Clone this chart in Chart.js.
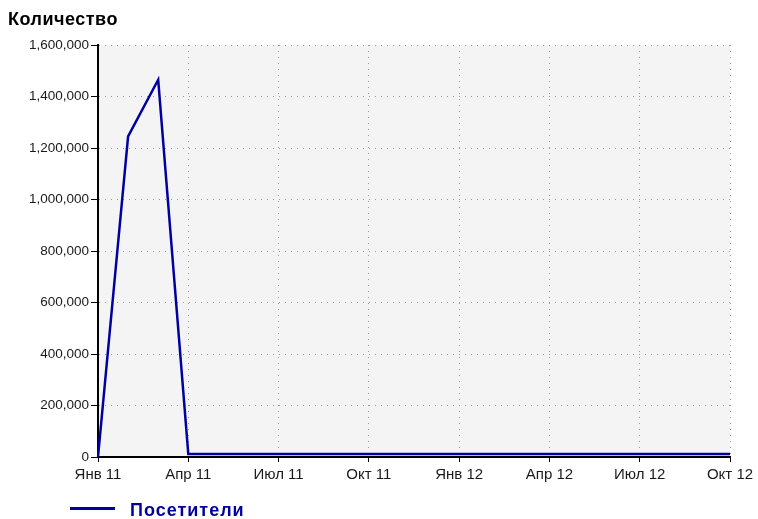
<!DOCTYPE html>
<html>
<head>
<meta charset="utf-8">
<script src="https://cdn.jsdelivr.net/npm/chart.js@4"></script>
<style>
  html, body { margin: 0; padding: 0; background: #fff; }
  #myChart { display: block; }
</style>
</head>
<body>
<canvas id="myChart" width="758" height="519"></canvas>
<script>
// months on the x axis (Jan 2011 - Oct 2012)
const months = [
  'Янв 11', 'Фев 11', 'Мар 11', 'Апр 11', 'Май 11', 'Июн 11',
  'Июл 11', 'Авг 11', 'Сен 11', 'Окт 11', 'Ноя 11', 'Дек 11',
  'Янв 12', 'Фев 12', 'Мар 12', 'Апр 12', 'Май 12', 'Июн 12',
  'Июл 12', 'Авг 12', 'Сен 12', 'Окт 12'
]
// only these get a label, tick and grid line
const xTickLabels = ['Янв 11', 'Апр 11', 'Июл 11', 'Окт 11', 'Янв 12', 'Апр 12', 'Июл 12', 'Окт 12']
const yTickValues = [0, 200000, 400000, 600000, 800000, 1000000, 1200000, 1400000, 1600000]

const seriesName = 'Посетители'
const visitors = [
  0, 1245000, 1465000, 12000, 12000, 12000,
  12000, 12000, 12000, 12000, 12000, 12000,
  12000, 12000, 12000, 12000, 12000, 12000,
  12000, 12000, 12000, 12000
]
const yTitle = 'Количество'

const LINE_COLOR = '#0000a0'
const FONT = '"Liberation Sans", Arial, sans-serif'

const isQuarter = (ctx) => xTickLabels.includes(months[ctx.index])

const plotBackground = {
  id: 'plotBackground',
  beforeDraw(chart) {
    const { ctx, chartArea: a } = chart
    ctx.save()
    ctx.fillStyle = '#f4f4f4'
    ctx.fillRect(a.left, a.top, a.right - a.left, a.bottom - a.top)
    ctx.restore()
  }
}

// axis title on top, legend under the axis
const titleAndLegend = {
  id: 'titleAndLegend',
  afterDraw(chart) {
    const ctx = chart.ctx
    const ds = chart.data.datasets[0]
    ctx.save()
    ctx.fillStyle = '#000'
    ctx.font = 'bold 18px ' + FONT
    ctx.textBaseline = 'alphabetic'
    ctx.letterSpacing = '0.5px'
    ctx.fillText(yTitle, 8, 25)

    ctx.strokeStyle = ds.borderColor
    ctx.lineWidth = 3
    ctx.beginPath()
    ctx.moveTo(70, 508.5)
    ctx.lineTo(115, 508.5)
    ctx.stroke()

    ctx.fillStyle = ds.borderColor
    ctx.letterSpacing = '1px'
    ctx.fillText(ds.label, 130, 516)
    ctx.restore()
  }
}

const canvas = document.querySelector('#myChart')
const myChart = new Chart(canvas.getContext('2d'), {
  type: 'line',
  data: {
    labels: months,
    datasets: [{
      label: seriesName,
      data: visitors,
      borderColor: LINE_COLOR,
      backgroundColor: LINE_COLOR,
      borderWidth: 2.5,
      pointRadius: 0,
      tension: 0,
      fill: false
    }]
  },
  options: {
    responsive: false,
    animation: false,
    layout: { padding: { top: 45, right: 28, bottom: 27, left: 0 } },
    plugins: {
      legend: { display: false },
      tooltip: { enabled: false }
    },
    scales: {
      x: {
        afterFit(scale) { scale.height = 35 },
        grid: {
          color: (ctx) => isQuarter(ctx) ? '#999' : 'transparent',
          tickColor: (ctx) => isQuarter(ctx) ? '#000' : 'transparent',
          tickLength: 5,
          lineWidth: 1
        },
        border: { display: true, color: '#000', width: 2, dash: [1, 5] },
        ticks: {
          autoSkip: false,
          maxRotation: 0,
          padding: 4,
          color: '#1a1a1a',
          font: { family: FONT, size: 15 },
          callback(value, index) {
            return xTickLabels.includes(months[index]) ? months[index] : ''
          }
        }
      },
      y: {
        min: 0,
        max: 1600000,
        afterFit(scale) { scale.width = 98 },
        afterBuildTicks(scale) {
          scale.ticks = yTickValues.map(v => ({ value: v }))
        },
        grid: {
          color: '#999',
          tickColor: '#000',
          tickLength: 7,
          lineWidth: 1
        },
        border: { display: true, color: '#000', width: 2, dash: [1, 5] },
        ticks: {
          padding: 2,
          color: '#1a1a1a',
          font: { family: FONT, size: 13.5 },
          callback: (v) => v.toLocaleString('en-US')
        }
      }
    }
  },
  plugins: [plotBackground, titleAndLegend]
})
</script>
</body>
</html>
